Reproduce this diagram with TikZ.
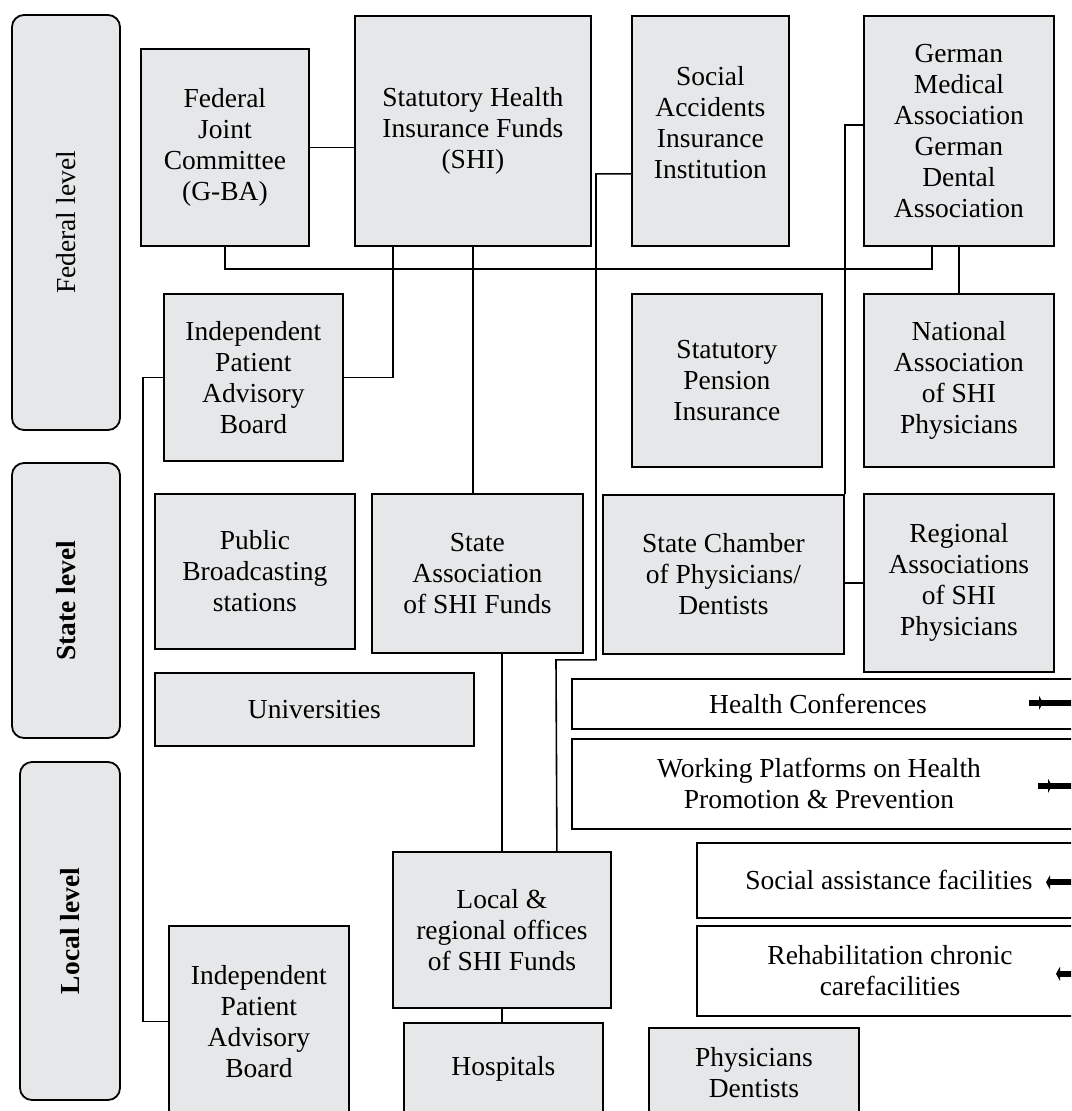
\documentclass[tikz,border=0pt]{standalone}
\usepackage{fontspec}
\setmainfont{Liberation Serif}
\usetikzlibrary{arrows.meta,positioning}
\definecolor{boxgray}{HTML}{E6E7E8}
\tikzset
{
    orgbox/.style = {rectangle, draw=black, line width=1.8pt, fill=boxgray, align=center, anchor=north west, inner sep=2pt},
    openbox/.style = {rectangle, draw=black, line width=1.6pt, fill=white, anchor=north west},
    levelbox/.style = {rectangle, rounded corners=12pt, draw=black, line width=1.8pt, fill=boxgray, rotate=90},
    link/.style = {draw=black, line width=1.6pt},
    stub/.style = {line width=6pt}
}

\begin{document}
\begin{tikzpicture}[x=1pt, y=-1pt, every node/.style={font=\fontsize{27.5}{31}\selectfont}]
\useasboundingbox (0,0) rectangle (1071,1111);
\clip (0,0) rectangle (1071,1111);

% levels
\node[levelbox, minimum width=415pt, minimum height=108pt] (federal) at (66,222.5) {Federal level};
\node[levelbox, minimum width=275pt, minimum height=108pt] (state) at (66,600.5) {\textbf{State level}};
\node[levelbox, minimum width=338pt, minimum height=100pt] (local) at (70,931) {\textbf{Local level}};

% federal level
\node[orgbox, minimum width=168pt, minimum height=197pt] (gba) at (140,48) {Federal\\Joint\\Committee\\(G-BA)};
\node[orgbox, minimum width=236pt, minimum height=230pt] (shi) at (354,15) {Statutory Health\\Insurance Funds\\(SHI)};
\node[orgbox, minimum width=157pt, minimum height=230pt, text depth=17pt] (sai) at (631,15) {Social\\Accidents\\Insurance\\Institution};
\node[orgbox, minimum width=190pt, minimum height=230pt] (gma) at (863,15) {German\\Medical\\Association\\German\\Dental\\Association};
\node[orgbox, minimum width=179pt, minimum height=167pt] (ipab) at (163,293) {Independent\\Patient\\Advisory\\Board};
\node[orgbox, minimum width=190pt, minimum height=173pt] (spi) at (631,293) {Statutory\\Pension\\Insurance};
\node[orgbox, minimum width=190pt, minimum height=173pt] (kbv) at (863,293) {National\\Association\\of SHI\\Physicians};

% state level
\node[orgbox, minimum width=200pt, minimum height=155pt] (pbs) at (154,493) {Public\\Broadcasting\\stations};
\node[orgbox, minimum width=211pt, minimum height=159pt] (lshi) at (371,493) {State\\Association\\of SHI Funds};
\node[orgbox, minimum width=241pt, minimum height=159pt] (chamber) at (602,494) {State Chamber\\of Physicians/\\Dentists};
\node[orgbox, minimum width=190pt, minimum height=178pt] (kv) at (863,493) {Regional\\Associations\\of SHI\\Physicians};
\node[orgbox, minimum width=319pt, minimum height=73pt] (uni) at (154,672) {Universities};

% platforms
\node[openbox, minimum width=519pt, minimum height=50pt] (conf) at (571,678) {};
\node (conftext) at ([xshift=247pt]conf.west) {Health Conferences};
\node[openbox, minimum width=519pt, minimum height=90pt] (wp) at (571,738) {};
\node[align=center] (wptext) at ([xshift=248pt]wp.west) {Working Platforms on Health\\Promotion \& Prevention};
\node[openbox, minimum width=394pt, minimum height=75pt] (sa) at (696,842) {};
\node (satext) at ([xshift=193pt]sa.west) {Social assistance facilities};
\node[openbox, minimum width=394pt, minimum height=90pt] (rc) at (696,925) {};
\node[align=center] (rctext) at ([xshift=194pt]rc.west) {Rehabilitation chronic\\carefacilities};

% local level
\node[orgbox, minimum width=218pt, minimum height=156pt] (lsf) at (392,851) {Local \&\\regional offices\\of SHI Funds};
\node[orgbox, minimum width=180pt, minimum height=191pt] (ipabl) at (168,925) {Independent\\Patient\\Advisory\\Board};
\node[orgbox, minimum width=199pt, minimum height=92pt] (hosp) at (403,1022) {Hospitals};
\node[orgbox, minimum width=210pt, minimum height=90pt] (phys) at (648,1027) {Physicians\\Dentists};

% connectors
\draw[link] (gba.east) -- (gba.east -| shi.west);
\draw[link] (gba.south) -- ++(0,22) -| ([xshift=-27pt]gma.south);
\draw[link] ([xshift=-80pt]shi.south) |- (ipab.east);
\draw[link] (shi.south) -- (shi.south |- lshi.north);
\draw[link] (gma.south) -- (kbv.north);
\draw[link] ([yshift=6pt]gma.west) -| (chamber.north east);
\draw[link] (kv.west) -- (kv.west -| chamber.east);
\draw[link] ([yshift=-43pt]sai.west) -- ++(-35,0) -- ++(0,486) -- ++(-40,0) -- ([xshift=55pt]lsf.north);
\draw[link] (lsf.north) -- (lsf.north |- lshi.south);
\draw[link] (lsf.south) -- (lsf.south |- hosp.north);
\draw[link] (ipab.west) -- ++(-20,0) |- (ipabl.west);

% arrows leaving the page
\draw[stub, -{Triangle[length=4pt, width=14pt]}] ([xshift=458pt, yshift=1pt]conf.west) -- ([xshift=472pt, yshift=1pt]conf.west);
\draw[stub] ([xshift=470pt, yshift=1pt]conf.west) -- ([xshift=530pt, yshift=1pt]conf.west);
\draw[stub, -{Triangle[length=4pt, width=14pt]}] ([xshift=467pt, yshift=-2pt]wp.west) -- ([xshift=481pt, yshift=-2pt]wp.west);
\draw[stub] ([xshift=479pt, yshift=-2pt]wp.west) -- ([xshift=530pt, yshift=-2pt]wp.west);
\draw[stub, {Triangle[length=4pt, width=14pt]}-] ([xshift=350pt, yshift=-2pt]sa.west) -- ([xshift=400pt, yshift=-2pt]sa.west);
\draw[stub, {Triangle[length=4pt, width=14pt]}-] ([xshift=360pt, yshift=-3pt]rc.west) -- ([xshift=400pt, yshift=-3pt]rc.west);
\end{tikzpicture}
\end{document}
